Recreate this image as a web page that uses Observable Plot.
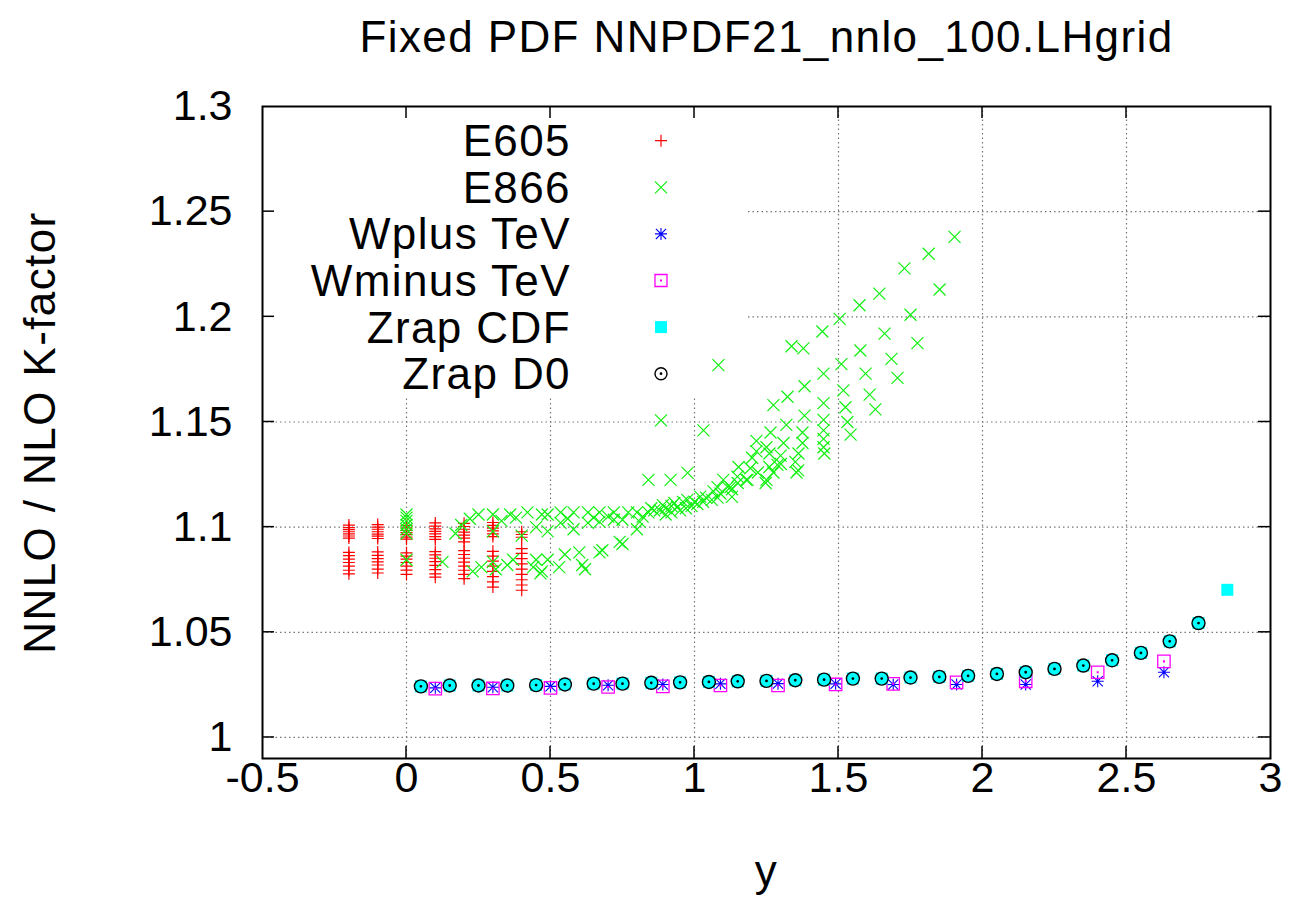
<!DOCTYPE html>
<html><head><meta charset="utf-8">
<script src="https://cdn.jsdelivr.net/npm/d3@7"></script>
<script src="https://cdn.jsdelivr.net/npm/@observablehq/plot@0.6"></script>
<style>
body{margin:0;background:#fff;}
</style></head><body><div id="chart"></div>
<script>
// ---------- data ----------
const titleText = "Fixed PDF NNPDF21_nnlo_100.LHgrid";
const xLabel = "y";
const yLabel = "NNLO / NLO K-factor";
const xTicks = [-0.5, 0, 0.5, 1, 1.5, 2, 2.5, 3];
const yTicks = [1, 1.05, 1.1, 1.15, 1.2, 1.25, 1.3];
const legendLabels = ["E605", "E866", "Wplus TeV", "Wminus TeV", "Zrap CDF", "Zrap D0", ""];

const e605X = [-0.2, -0.1, 0, 0.1, 0.2, 0.3, 0.4];
const e605Vals = [
  [1.1010,1.0998,1.0988,1.0978,1.0968,1.0958,1.0948,1.0880,1.0865,1.0848,1.0832,1.0815,1.0795,1.0778],
  [1.1012,1.1000,1.0990,1.0978,1.0967,1.0957,1.0946,1.0882,1.0866,1.0850,1.0835,1.0820,1.0800,1.0782],
  [1.1008,1.0996,1.0985,1.0974,1.0964,1.0953,1.0943,1.0878,1.0862,1.0848,1.0832,1.0815,1.0796,1.0775],
  [1.1020,1.1005,1.0992,1.0980,1.0968,1.0955,1.0942,1.0884,1.0868,1.0852,1.0836,1.0818,1.0798,1.0778,1.0762],
  [1.1018,1.1003,1.0990,1.0976,1.0962,1.0948,1.0930,1.0888,1.0870,1.0852,1.0834,1.0815,1.0795,1.0775,1.0755],
  [1.1022,1.1008,1.0995,1.0982,1.0968,1.0955,1.0885,1.0862,1.0838,1.0815,1.0790,1.0765,1.0740,1.0715],
  [1.0978,1.0965,1.0952,1.0898,1.0875,1.0850,1.0825,1.0800,1.0775,1.0750,1.0725,1.0700]
];

const e866 = [
  [0,1.1060],[0,1.1045],[0,1.1030],[0,1.1010],[0,1.0990],[0,1.0970],[0,1.0845],[0.125,1.0835],
  [0.17,1.0970],[0.19,1.1010],[0.22,1.1040],[0.25,1.1060],[0.30,1.1060],[0.36,1.1060],[0.42,1.1070],[0.47,1.1060],
  [0.30,1.0980],[0.40,1.0960],[0.45,1.1000],[0.33,1.1030],[0.38,1.1045],
  [0.49,1.1060],[0.535,1.1070],[0.58,1.1070],[0.63,1.1070],[0.67,1.1070],[0.72,1.1070],[0.77,1.1070],[0.80,1.1070],
  [0.85,1.1090],[0.89,1.1105],[0.93,1.1115],[0.96,1.1120],
  [0.49,1.0980],[0.535,1.1020],[0.58,1.0990],[0.63,1.1020],[0.67,1.1025],[0.72,1.1035],[0.75,1.1035],[0.80,1.0990],
  [0.81,1.1025],[0.56,1.1040],[0.65,1.1045],[0.70,1.1050],
  [0.23,1.0790],[0.26,1.0810],[0.30,1.0835],[0.31,1.0800],[0.35,1.0820],[0.37,1.0845],[0.44,1.0810],[0.45,1.0845],
  [0.47,1.0790],[0.465,1.0780],[0.49,1.0845],[0.53,1.0810],[0.55,1.0870],[0.60,1.0880],[0.61,1.0820],[0.62,1.0800],
  [0.67,1.0880],[0.68,1.0890],[0.74,1.0930],[0.75,1.0920],
  [0.82,1.1050],[0.84,1.1070],[0.86,1.1080],[0.88,1.1080],[0.90,1.1090],[0.92,1.1100],[0.94,1.1095],[0.975,1.1130],
  [1.00,1.1120],[1.02,1.1145],[1.04,1.1140],[1.066,1.1170],[1.09,1.1160],[1.115,1.1190],[1.13,1.1180],[1.15,1.1210],
  [1.18,1.1225],[1.22,1.1260],[1.25,1.1225],[1.26,1.1286],[1.30,1.1300],[1.36,1.1270],
  [0.90,1.1060],[0.92,1.1070],[0.95,1.1080],[0.97,1.1090],[0.99,1.1100],[1.01,1.1110],[1.03,1.1120],[1.06,1.1130],[1.08,1.1140],
  [0.84,1.1225],[0.917,1.1225],[0.976,1.1258],[1.031,1.1460],[1.083,1.1770],
  [1.337,1.186],[1.378,1.185],[1.576,1.184],[1.51,1.1775],[1.594,1.173],[1.448,1.173],[1.382,1.167],[1.323,1.162],
  [1.274,1.158],[1.517,1.165],[1.608,1.163],[1.628,1.156],[1.524,1.157],[1.448,1.159],[1.382,1.153],[1.319,1.1486],
  [1.264,1.145],[1.215,1.141],[1.531,1.150],[1.542,1.144],[1.448,1.151],[1.448,1.146],[1.448,1.142],[1.448,1.138],
  [1.451,1.135],[1.375,1.145],[1.375,1.140],[1.361,1.135],[1.35,1.131],[1.354,1.126],[1.309,1.140],[1.299,1.134],
  [1.288,1.1296],[1.274,1.126],[1.247,1.121],[1.26,1.135],[1.25,1.138],[1.215,1.136],[1.20,1.133],[1.194,1.128],
  [1.184,1.1225],[1.153,1.1286],[1.149,1.124],[1.125,1.119],[1.10,1.1225],[1.08,1.119],[1.13,1.1144],
  [1.903,1.238],[1.813,1.230],[1.729,1.223],[1.642,1.211],[1.573,1.2055],[1.504,1.199],[1.851,1.213],[1.75,1.201],
  [1.774,1.1875],[1.66,1.192],[1.684,1.180],[1.705,1.171],[1.444,1.193]
];

const wX = [0.1, 0.3, 0.5, 0.7, 0.89, 1.09, 1.29, 1.49, 1.69, 1.91, 2.15, 2.40, 2.63];
const wplusY = [1.0236,1.0239,1.0243,1.0248,1.0252,1.0255,1.0256,1.0255,1.0252,1.0252,1.0252,1.0267,1.0310];
const wminusY = [1.0232,1.0233,1.0236,1.0240,1.0243,1.0247,1.0247,1.0252,1.0255,1.0262,1.0267,1.0310,1.0362];

const zX = [0.05,0.15,0.25,0.35,0.45,0.55,0.65,0.75,0.85,0.95,1.05,1.15,1.25,1.35,1.45,1.55,1.65,1.75,1.85,1.95,2.05,2.15,2.25,2.35,2.45,2.55,2.65,2.75,2.85];
const zcdfY = [1.0243,1.0247,1.0247,1.0247,1.0249,1.0252,1.0256,1.0256,1.0260,1.0262,1.0264,1.0267,1.0269,1.0272,1.0275,1.0280,1.0280,1.0285,1.0288,1.0293,1.0302,1.0310,1.0326,1.0342,1.0367,1.0402,1.0457,1.0544,1.0702];
const zd0X = zX.slice(0, 28);
const zd0Y = zcdfY.slice(0, 28);

// ---------- tables ----------
const e605 = e605X.flatMap((x, i) => e605Vals[i].map(v => ({x, y: v})));
const e866T = e866.map(([x, y]) => ({x, y}));
const wplus = wX.map((x, i) => ({x, y: wplusY[i]}));
const wminus = wX.map((x, i) => ({x, y: wminusY[i]}));
const zcdf = zX.map((x, i) => ({x, y: zcdfY[i]}));
const zd0 = zd0X.map((x, i) => ({x, y: zd0Y[i]}));

// ---------- symbols ----------
const rad = s => Math.sqrt(s / Math.PI);
const symPlus = {draw(c, s) {const r = rad(s); c.moveTo(-r,0); c.lineTo(r,0); c.moveTo(0,-r); c.lineTo(0,r);}};
const symTimes = {draw(c, s) {const r = rad(s); c.moveTo(-r,-r); c.lineTo(r,r); c.moveTo(-r,r); c.lineTo(r,-r);}};
const symStar = {draw(c, s) {const r = rad(s), q = r * 0.85; c.moveTo(-r,0); c.lineTo(r,0); c.moveTo(0,-r); c.lineTo(0,r);
  c.moveTo(-q,-q); c.lineTo(q,q); c.moveTo(-q,q); c.lineTo(q,-q);}};
const symBoxDot = {draw(c, s) {const r = rad(s); c.rect(-r,-r,2*r,2*r); c.rect(-0.4,-0.4,0.8,0.8);}};
const symSquare = {draw(c, s) {const r = rad(s); c.rect(-r,-r,2*r,2*r);}};
const symCircleDot = {draw(c, s) {const r = rad(s); c.moveTo(r,0); c.arc(0,0,r,0,2*Math.PI); c.moveTo(0.7,0); c.arc(0,0,0.7,0,2*Math.PI);}};

const GREEN = "#11f011";
const styles = [
  {symbol: symPlus, fill: "none", stroke: "#ff0000", sw: 1.2, r: 6},
  {symbol: symTimes, fill: "none", stroke: GREEN, sw: 1.2, r: 6},
  {symbol: symStar, fill: "none", stroke: "#0000ff", sw: 1.1, r: 6},
  {symbol: symBoxDot, fill: "none", stroke: "#ff00ff", sw: 1.3, r: 6.2},
  {symbol: symSquare, fill: "#00ffff", stroke: "none", sw: 0, r: 6},
  {symbol: symCircleDot, fill: "none", stroke: "#000000", sw: 1.4, r: 6.5},
  {symbol: symTimes, fill: "none", stroke: GREEN, sw: 1.2, r: 6}
];

const dotMark = (data, k) => Plot.dot(data, {x: "x", y: "y", symbol: styles[k].symbol, r: styles[k].r,
  fill: styles[k].fill, stroke: styles[k].stroke, strokeWidth: styles[k].sw});

// ---------- custom render marks ----------
function legendMark(index, scales, values, dims) {
  const g = d3.create("svg:g").attr("aria-label", "legend");
  const left = dims.marginLeft + 1, top = dims.marginTop + 1;
  g.append("rect").attr("x", left).attr("y", top).attr("width", 745 - left).attr("height", 398 - top).attr("fill", "white");
  legendLabels.forEach((lab, i) => {
    const y = 140.7 + i * 46.6;
    if (lab) g.append("text").attr("x", 571).attr("y", y).attr("dy", "0.35em").attr("text-anchor", "end")
      .attr("font-size", 44).attr("fill", "black").attr("letter-spacing", "1.4").text(lab);
    const st = styles[i];
    g.append("path").attr("transform", `translate(661,${y})`)
      .attr("d", d3.symbol(st.symbol, Math.PI * 36)())
      .attr("fill", st.fill).attr("stroke", st.stroke).attr("stroke-width", st.sw);
  });
  return g.node();
}

function ticksMark(index, scales, values, dims) {
  const xs = scales && scales.x ? scales.x : d3.scaleLinear([-0.5, 3], [dims.marginLeft, dims.width - dims.marginRight]);
  const ys = scales && scales.y ? scales.y : d3.scaleLinear([0.99, 1.3], [dims.height - dims.marginBottom, dims.marginTop]);
  const x0 = dims.marginLeft, x1 = dims.width - dims.marginRight;
  const y0 = dims.marginTop, y1 = dims.height - dims.marginBottom;
  const g = d3.create("svg:g").attr("stroke", "black").attr("stroke-width", 1.5);
  const L = 12;
  for (const t of yTicks.slice(0, -1)) {
    const p = ys(t);
    g.append("line").attr("x1", x0).attr("x2", x0 + L).attr("y1", p).attr("y2", p);
    g.append("line").attr("x1", x1).attr("x2", x1 - L).attr("y1", p).attr("y2", p);
  }
  for (const t of xTicks.slice(1, -1)) {
    const p = xs(t);
    g.append("line").attr("y1", y0).attr("y2", y0 + L).attr("x1", p).attr("x2", p);
    g.append("line").attr("y1", y1).attr("y2", y1 - L).attr("x1", p).attr("x2", p);
  }
  return g.node();
}

const gridStyle = {stroke: "#777", strokeWidth: 1.2, strokeDasharray: "1.5,3", strokeOpacity: 1};
const fmt = d => String(+d.toFixed(2));

const chart = Plot.plot({
  width: 1294, height: 901,
  marginLeft: 262, marginRight: 24, marginTop: 106, marginBottom: 143,
  style: {fontFamily: "'Liberation Sans', Arial, Helvetica, sans-serif", background: "white", color: "black", overflow: "visible"},
  x: {domain: [-0.5, 3]},
  y: {domain: [0.99, 1.3]},
  marks: [
    Plot.ruleX(xTicks.slice(1, -1), {x: d => d, ...gridStyle}),
    Plot.ruleY(yTicks.slice(0, -1), {y: d => d, ...gridStyle}),
    legendMark,
    dotMark(e605, 0),
    dotMark(e866T, 1),
    dotMark(wplus, 2),
    dotMark(wminus, 3),
    dotMark(zcdf, 4),
    dotMark(zd0, 5),
    Plot.frame({stroke: "black", strokeWidth: 2}),
    ticksMark,
    Plot.axisX(xTicks, {tickSize: 0, tickPadding: 3, fontSize: 43, tickFormat: fmt, label: null, fill: "black"}),
    Plot.axisY(yTicks, {tickSize: 0, tickPadding: 30, fontSize: 43, tickFormat: fmt, label: null, fill: "black"}),
    Plot.text([titleText], {text: d => d, frameAnchor: "top", lineAnchor: "middle", textAnchor: "middle", dy: -69, fontSize: 44, fill: "black"}),
    Plot.text([yLabel], {text: d => d, frameAnchor: "left", lineAnchor: "middle", textAnchor: "middle", dx: -222, rotate: -90, fontSize: 44, fill: "black"}),
    Plot.text([xLabel], {text: d => d, frameAnchor: "bottom", lineAnchor: "middle", textAnchor: "middle", dy: 113, fontSize: 44, fill: "black"})
  ]
});
d3.select(chart).selectAll("text")
  .filter(function () { return [titleText, yLabel, xLabel, ...legendLabels.filter(Boolean)].includes(this.textContent); })
  .style("letter-spacing", "1.4px");
document.getElementById("chart").appendChild(chart);
</script></body></html>
